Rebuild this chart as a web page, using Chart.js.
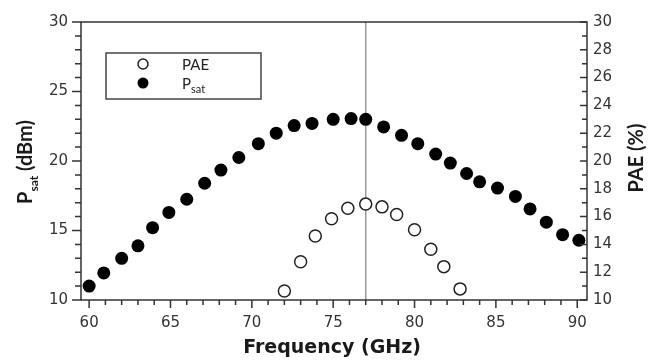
<!DOCTYPE html>
<html>
<head>
<meta charset="utf-8">
<script src="https://cdn.jsdelivr.net/npm/chart.js@4.4.1/dist/chart.umd.min.js"></script>
<style>
body { margin: 0; background: #fff; }
#wrap { width: 664px; height: 360px; }
</style>
</head>
<body>
<div id="wrap"><canvas id="pae_psat" width="664" height="360"></canvas></div>
<script>
// values
const freqPsat = [60, 60.9, 62, 63, 63.9, 64.9, 66, 67.1, 68.1, 69.2, 70.4, 71.5, 72.6, 73.7, 75, 76.1, 77, 78.1, 79.2, 80.2, 81.3, 82.2, 83.2, 84, 85.1, 86.2, 87.1, 88.1, 89.1, 90.1]
const dataPsat = [11.0, 11.95, 13.0, 13.9, 15.2, 16.3, 17.25, 18.4, 19.35, 20.25, 21.25, 22.0, 22.55, 22.7, 23.0, 23.05, 23.0, 22.45, 21.85, 21.25, 20.5, 19.85, 19.1, 18.5, 18.05, 17.45, 16.55, 15.6, 14.7, 14.3]
const freqPae = [72, 73, 73.9, 74.9, 75.9, 77, 78, 78.9, 80, 81, 81.8, 82.8]
const dataPae = [10.65, 12.75, 14.6, 15.85, 16.6, 16.9, 16.7, 16.15, 15.05, 13.65, 12.4, 10.8]
const markerFreq = 77
const xTicks = [60, 65, 70, 75, 80, 85, 90]
const psatTicks = [10, 15, 20, 25, 30]
const paeTicks = [10, 12, 14, 16, 18, 20, 22, 24, 26, 28, 30]

const tickFont = { family: 'DejaVu Sans', size: 15 }
const textColor = '#333'

function pts(xs, ys) {
	return xs.map((f, i) => ({ x: f, y: ys[i] }))
}
function fixTicks(list) {
	return scale => { scale.ticks = list.map(v => ({ value: v })) }
}

// text with subscript, returns width
function subText(ctx, x, y, main, sub, rest, big, small, drop, measureOnly) {
	ctx.font = big
	const w1 = ctx.measureText(main).width
	ctx.font = small
	const w2 = ctx.measureText(sub).width
	ctx.font = big
	const w3 = ctx.measureText(rest).width
	if (!measureOnly) {
		ctx.font = big
		ctx.fillText(main, x, y)
		ctx.font = small
		ctx.fillText(sub, x + w1, y + drop)
		ctx.font = big
		ctx.fillText(rest, x + w1 + w2, y)
	}
	return w1 + w2 + w3
}

const decor = {
	id: 'decor',
	beforeDatasetsDraw(chart) {
		const { ctx, chartArea: a, scales } = chart
		const x = scales.x.getPixelForValue(markerFreq)
		ctx.save()
		ctx.strokeStyle = '#9a9a9a'
		ctx.lineWidth = 1.5
		ctx.beginPath()
		ctx.moveTo(x, a.top)
		ctx.lineTo(x, a.bottom)
		ctx.stroke()
		ctx.restore()
	},
	afterDraw(chart) {
		const { ctx, chartArea: a, scales } = chart
		ctx.save()
		ctx.strokeStyle = '#333'
		ctx.lineWidth = 1.5
		ctx.strokeRect(a.left, a.top, a.right - a.left, a.bottom - a.top)

		// tick marks, minor every unit; right axis ticks point inward
		ctx.beginPath()
		for (let f = 60; f <= 90; f++) {
			const px = scales.x.getPixelForValue(f)
			ctx.moveTo(px, a.bottom)
			ctx.lineTo(px, a.bottom + (f % 5 === 0 ? 8 : 5))
		}
		for (let v = 10; v <= 30; v++) {
			const py = scales.y.getPixelForValue(v)
			ctx.moveTo(a.left, py)
			ctx.lineTo(a.left - (v % 5 === 0 ? 9 : 6), py)
			const py2 = scales.y2.getPixelForValue(v)
			ctx.moveTo(a.right, py2)
			ctx.lineTo(a.right - (v % 2 === 0 ? 7 : 5), py2)
		}
		ctx.stroke()

		// legend
		ctx.strokeStyle = '#444'
		ctx.strokeRect(106, 53, 155, 46)
		ctx.lineWidth = 1.5
		ctx.beginPath()
		ctx.arc(143, 64, 5, 0, Math.PI * 2)
		ctx.fillStyle = '#fff'
		ctx.fill()
		ctx.strokeStyle = '#222'
		ctx.stroke()
		ctx.beginPath()
		ctx.arc(143, 83, 5.5, 0, Math.PI * 2)
		ctx.fillStyle = '#000'
		ctx.fill()
		ctx.fillStyle = '#222'
		ctx.textBaseline = 'alphabetic'
		ctx.textAlign = 'left'
		ctx.font = '15px Lato'
		ctx.fillText('PAE', 182, 70)
		subText(ctx, 182, 89, 'P', 'sat', '', '15px Lato', '11px Lato', 4)

		// axis titles
		ctx.fillStyle = '#1a1a1a'
		ctx.font = 'bold 19px "DejaVu Sans"'
		ctx.textAlign = 'center'
		ctx.fillText('Frequency (GHz)', (a.left + a.right) / 2 - 2, 353)

		ctx.textAlign = 'left'
		ctx.save()
		ctx.translate(32, 162)
		ctx.rotate(-Math.PI / 2)
		const big = 'bold 20px Lato', small = 'bold 12px Lato'
		const w = subText(ctx, 0, 0, 'P', 'sat', ' (dBm)', big, small, 6, true)
		subText(ctx, -w / 2, 0, 'P', 'sat', ' (dBm)', big, small, 6)
		ctx.restore()

		ctx.save()
		ctx.translate(643, 158)
		ctx.rotate(-Math.PI / 2)
		ctx.font = big
		ctx.textAlign = 'center'
		ctx.fillText('PAE (%)', 0, 0)
		ctx.restore()

		ctx.restore()
	}
}

const config = {
	type: 'scatter',
	data: {
		datasets: [{
			label: 'PAE',
			data: pts(freqPae, dataPae),
			yAxisID: 'y2',
			pointStyle: 'circle',
			pointRadius: 6,
			pointBackgroundColor: '#fff',
			pointBorderColor: '#222',
			pointBorderWidth: 1.5
		}, {
			label: 'Psat',
			data: pts(freqPsat, dataPsat),
			yAxisID: 'y',
			pointStyle: 'circle',
			pointRadius: 6.5,
			pointBackgroundColor: '#000',
			pointBorderColor: '#000',
			pointBorderWidth: 0
		}]
	},
	options: {
		responsive: false,
		animation: false,
		layout: { padding: { top: 20, left: 0, right: 0, bottom: 0 } },
		plugins: { legend: { display: false }, tooltip: { enabled: false } },
		scales: {
			x: {
				type: 'linear',
				position: 'bottom',
				min: 59.5,
				max: 90.6,
				grid: { display: false, drawTicks: false },
				border: { display: false },
				afterBuildTicks: fixTicks(xTicks),
				afterFit(scale) { scale.height = 60 },
				ticks: { font: tickFont, color: textColor, padding: 14, maxRotation: 0 }
			},
			y: {
				type: 'linear',
				position: 'left',
				min: 10,
				max: 30,
				grid: { display: false, drawTicks: false },
				border: { display: false },
				afterBuildTicks: fixTicks(psatTicks),
				afterFit(scale) { scale.width = 81 },
				ticks: { font: tickFont, color: textColor, padding: 13 }
			},
			y2: {
				type: 'linear',
				position: 'right',
				min: 10,
				max: 30,
				grid: { display: false, drawTicks: false },
				border: { display: false },
				afterBuildTicks: fixTicks(paeTicks),
				afterFit(scale) { scale.width = 77 },
				ticks: { font: tickFont, color: textColor, padding: 6 }
			}
		}
	},
	plugins: [decor]
}

const chartPaePsat = new Chart(document.getElementById('pae_psat').getContext('2d'), config)
</script>
</body>
</html>
